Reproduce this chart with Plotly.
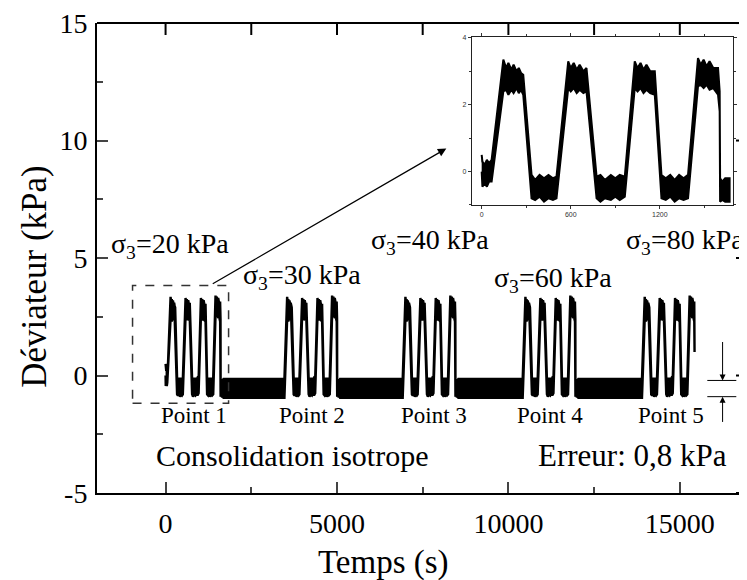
import plotly.graph_objects as go

# ---- Data ----
# Burst profile (Point 1, also shown in the inset): time (s) from burst start,
# upper / lower edges of the noisy trace (kPa)
prof_t = [0, 5, 20, 35, 50, 67,
          146, 165, 180, 200, 215, 235, 250, 265, 280,
          336, 360, 390, 420, 450, 480, 504,
          583, 600, 620, 640, 660, 685, 706,
          774, 800, 830, 870, 900, 930, 964,
          1031, 1050, 1070, 1090, 1110, 1135, 1166,
          1211, 1240, 1270, 1300, 1330, 1360, 1390,
          1457, 1475, 1495, 1515, 1535, 1560, 1592,
          1603, 1606, 1620, 1640, 1670]
prof_upper = [0.5, 0.3, 0.2, 0.35, 0.25, 0.35,
              3.35, 3.1, 3.25, 3.05, 3.2, 3.0, 3.1, 2.95, 2.9,
              -0.1, -0.25, -0.1, -0.2, -0.1, -0.2, -0.15,
              3.3, 3.1, 3.25, 3.05, 3.2, 3.0, 3.1,
              -0.15, -0.1, -0.25, -0.1, -0.2, -0.1, -0.15,
              3.3, 3.1, 3.25, 3.05, 3.2, 3.0, 3.0,
              -0.1, -0.2, -0.1, -0.25, -0.1, -0.2, -0.1,
              3.4, 3.2, 3.35, 3.15, 3.3, 3.1, 3.1,
              2.4, -0.2, -0.3, -0.2, -0.2]
prof_lower = [0.0, -0.45, -0.35, -0.45, -0.3, -0.3,
              2.4, 2.45, 2.3, 2.45, 2.35, 2.5, 2.35, 2.45, 2.3,
              -0.8, -0.85, -0.75, -0.9, -0.8, -0.85, -0.8,
              2.5, 2.4, 2.5, 2.35, 2.45, 2.35, 2.4,
              -0.8, -0.9, -0.8, -0.85, -0.75, -0.85, -0.75,
              2.5, 2.4, 2.5, 2.35, 2.45, 2.35, 2.3,
              -0.8, -0.85, -0.75, -0.9, -0.8, -0.85, -0.8,
              2.55, 2.6, 2.5, 2.6, 2.45, 2.5, 2.3,
              1.8, -0.9, -0.85, -0.9, -0.9]

# Start time of each test point (s)
burst_starts = [0, 3400, 6850, 10350, 13830]
point_labels = ["Point 1", "Point 2", "Point 3", "Point 4", "Point 5"]
point_label_x = [-200, 3250, 6800, 10180, 13720]
# baseline (isotropic consolidation) between points
baseline_upper = -0.15
baseline_lower = -0.95
# end of last recorded cycle
tail_t = [1600]
tail_upper = [1.6]
tail_lower = [1.0]

sigma_labels = ["σ<sub>3</sub>=20 kPa", "σ<sub>3</sub>=30 kPa", "σ<sub>3</sub>=40 kPa",
                "σ<sub>3</sub>=60 kPa", "σ<sub>3</sub>=80 kPa"]
sigma_x = [-1640, 2208, 5942, 9530, 13381]
sigma_y = [5.55, 4.2, 5.7, 4.1, 5.7]

x_ticks = [0, 5000, 10000, 15000]
x_minor_ticks = [2500, 7500, 12500]
x_tick_text = ["0", "5000", "10000", "15000"]
y_ticks = [-5, 0, 5, 10, 15]
y_minor_ticks = [-2.5, 2.5, 7.5, 12.5]
y_tick_text = ["-5", "0", "5", "10", "15"]
inset_x_ticks = [0, 600, 1200]
inset_y_ticks = [0, 2, 4]

# ---- Build main series ----
main_t, main_up, main_lo = [], [], []
n = len(burst_starts)
for k, s in enumerate(burst_starts):
    if k == 0:
        idx = list(range(len(prof_t)))
    else:
        main_t.append(s + 67); main_up.append(baseline_upper); main_lo.append(baseline_lower)
        idx = [i for i in range(len(prof_t)) if prof_t[i] > 67]
    if k == n - 1:
        idx = [i for i in idx if prof_t[i] <= 1592]
    for i in idx:
        main_t.append(s + prof_t[i]); main_up.append(prof_upper[i]); main_lo.append(prof_lower[i])
    if k == n - 1:
        for tt, uu, ll in zip(tail_t, tail_upper, tail_lower):
            main_t.append(s + tt); main_up.append(uu); main_lo.append(ll)
    else:
        main_t.append(s + prof_t[-1] + 20); main_up.append(baseline_upper); main_lo.append(baseline_lower)

def band(t, up, lo):
    return list(t) + list(t)[::-1], list(up) + list(lo)[::-1]

fig = go.Figure()
bx, by = band(main_t, main_up, main_lo)
fig.add_trace(go.Scatter(x=bx, y=by, fill="toself", fillcolor="black", mode="lines",
                         line=dict(color="black", width=2.4), showlegend=False, hoverinfo="skip"))
ix, iy = band(prof_t, prof_upper, prof_lower)
fig.add_trace(go.Scatter(x=ix, y=iy, fill="toself", fillcolor="black", mode="lines",
                         line=dict(color="black", width=2), showlegend=False, hoverinfo="skip",
                         xaxis="x2", yaxis="y2"))

SERIF = "Liberation Serif"
YR = [-5, 15.002]
XR = [-2000, 16960]
PX_PER_Y = 470 / 20.002
PX_PER_X = 650 / (XR[1] - XR[0])
# page body has an 8 px margin: figure is 8 px smaller and margins shifted so the plot area
# lands at x 97..747, y 23..493 of the window
fig.update_layout(
    width=739, height=572,
    margin=dict(l=89, r=0, t=15, b=87),
    paper_bgcolor="white", plot_bgcolor="white",
    font=dict(family=SERIF, color="black", size=26),
    xaxis=dict(range=XR, tickvals=x_ticks, ticktext=x_tick_text, ticks="inside",
               ticklen=11, tickwidth=2, automargin=False,
               minor=dict(dtick=2500, tick0=0, ticks="inside", ticklen=6, tickwidth=2),
               showline=True, linewidth=2, linecolor="black", mirror=False, showgrid=False,
               zeroline=False, tickfont=dict(size=28, family=SERIF), ticklabelstandoff=4,
               ticklabeloverflow="allow"),
    yaxis=dict(range=YR, tickvals=y_ticks, ticktext=y_tick_text, ticks="inside", ticklen=11,
               tickwidth=2, automargin=False,
               minor=dict(dtick=2.5, tick0=0, ticks="inside", ticklen=6, tickwidth=2),
               showline=True, linewidth=2, linecolor="black", mirror=False, showgrid=False,
               zeroline=False, tickfont=dict(size=28, family=SERIF), ticklabelstandoff=2,
               ticklabeloverflow="allow"),
    xaxis2=dict(domain=[0.5765, 0.9785], anchor="y2", range=[-67, 1693], tickvals=inset_x_ticks,
                ticks="outside", ticklen=3, tickwidth=1, tickcolor="#333", automargin=False,
                minor=dict(dtick=300, tick0=0, ticks="outside", ticklen=2, tickwidth=1, tickcolor="#333"),
                showline=True, linewidth=1, linecolor="#222", mirror="ticks", showgrid=False,
                zeroline=False, tickfont=dict(size=7, family="Liberation Sans", color="#333")),
    yaxis2=dict(domain=[0.6128, 0.9696], anchor="x2", range=[-1, 4.02], tickvals=inset_y_ticks,
                ticks="outside", ticklen=3, tickwidth=1, tickcolor="#333", automargin=False,
                minor=dict(dtick=1, tick0=0, ticks="outside", ticklen=2, tickwidth=1, tickcolor="#333"),
                showline=True, linewidth=1, linecolor="#222", mirror="ticks", showgrid=False,
                zeroline=False, tickfont=dict(size=7, family="Liberation Sans", color="#333")),
)

# top frame line of the main plot
fig.add_shape(type="line", xref="paper", yref="paper", x0=0, x1=1, y0=1, y1=1,
              line=dict(color="black", width=2), layer="above")
# top ticks (inside) at major and minor x positions
for xv in x_ticks + x_minor_ticks:
    fig.add_shape(type="line", xref="x", yref="y", x0=xv, x1=xv,
                  y0=YR[1], y1=YR[1] - 12 / PX_PER_Y,
                  line=dict(color="black", width=2), layer="above")
# right ticks (inside), no visible right line
for yv in y_ticks:
    fig.add_shape(type="line", xref="x", yref="y", x0=XR[1], x1=XR[1] - 11 / PX_PER_X,
                  y0=yv, y1=yv, line=dict(color="black", width=2), layer="above")
for yv in y_minor_ticks:
    fig.add_shape(type="line", xref="x", yref="y", x0=XR[1], x1=XR[1] - 7 / PX_PER_X,
                  y0=yv, y1=yv, line=dict(color="black", width=2), layer="above")

# axis titles
fig.add_annotation(x=0.44, y=-0.148, xref="paper", yref="paper", text="Temps (s)", showarrow=False,
                   xanchor="center", yanchor="middle", font=dict(size=33, family=SERIF))
fig.add_annotation(x=-0.0954, y=0.462, xref="paper", yref="paper", text="Déviateur (kPa)",
                   showarrow=False, textangle=-90, xanchor="center", yanchor="middle",
                   font=dict(size=35, family=SERIF))

# dashed box around Point 1
fig.add_shape(type="rect", x0=-963, x1=1838, y0=-1.18, y1=3.83, xref="x", yref="y",
              line=dict(color="#333", width=1.5, dash="dash"))
# arrow to inset
fig.add_annotation(x=8189, y=9.66, ax=1333, ay=3.87, xref="x", yref="y", axref="x", ayref="y",
                   text="", showarrow=True, arrowhead=2, arrowsize=1.4, arrowwidth=1.2, arrowcolor="black")

for txt, xx, yy in zip(sigma_labels, sigma_x, sigma_y):
    fig.add_annotation(x=xx, y=yy, xref="x", yref="y", text=txt, showarrow=False,
                       xanchor="left", yanchor="middle", font=dict(size=28, family=SERIF))
for txt, xx in zip(point_labels, point_label_x):
    fig.add_annotation(x=xx, y=-1.70, xref="x", yref="y", text=txt, showarrow=False,
                       xanchor="left", yanchor="middle", font=dict(size=23, family=SERIF))

fig.add_annotation(x=-327, y=-3.40, xref="x", yref="y", text="Consolidation isotrope", showarrow=False,
                   xanchor="left", yanchor="middle", font=dict(size=30, family=SERIF))
fig.add_annotation(x=10800, y=-3.40, xref="x", yref="y", text="Erreur: 0,8 kPa", showarrow=False,
                   xanchor="left", yanchor="middle", font=dict(size=31, family=SERIF))

# error indicator
for yy in [-0.21, -0.9]:
    fig.add_shape(type="line", x0=15802, x1=16648, y0=yy, y1=yy, xref="x", yref="y",
                  line=dict(color="black", width=1))
fig.add_annotation(x=16248, y=-0.21, ax=16248, ay=1.49, xref="x", yref="y", axref="x", ayref="y",
                   text="", showarrow=True, arrowhead=2, arrowsize=1.2, arrowwidth=1, arrowcolor="black")
fig.add_annotation(x=16248, y=-0.9, ax=16248, ay=-2.04, xref="x", yref="y", axref="x", ayref="y",
                   text="", showarrow=True, arrowhead=2, arrowsize=1.2, arrowwidth=1, arrowcolor="black")

fig.write_html("out.html")
